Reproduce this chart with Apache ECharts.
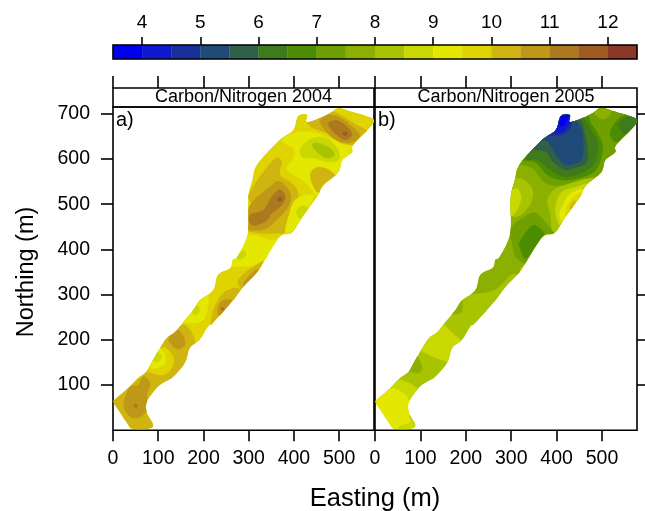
<!DOCTYPE html>
<html><head><meta charset="utf-8">
<style>html,body{margin:0;padding:0;background:#fff}#c{width:645px;height:511px}</style>
<script src="https://cdn.jsdelivr.net/npm/echarts@6/dist/echarts.min.js"></script>
</head><body><div id="c"></div>
<script>
// ---- axis ticks ----
const xTicks=[0,100,200,300,400,500];
const yTicks=[100,200,300,400,500,600,700];
const colorTicks=[4,5,6,7,8,9,10,11,12];
const titles=['Carbon/Nitrogen 2004','Carbon/Nitrogen 2005'];
const panelTags=['a)','b)'];
// ---- colour key bands: lower edges, width 0.5 ----
const bandEdges=[3.5,4,4.5,5,5.5,6,6.5,7,7.5,8,8.5,9,9.5,10,10.5,11,11.5,12];
const bandColors=['#0000f0','#1018d0','#18309c','#204a78','#306048','#3f7a1c','#4c8c00','#6fa000','#8cb000','#a8c400','#c8d800','#e4e800','#e0d400','#d0b410','#c09818','#ac7820','#a05c20','#8c3828'];
// ---- sampled field outline, Easting/Northing in m ----
const outline=[[3,67],[22,83],[38,98],[55,116],[73,129],[86,151],[104,182],[119,204],[137,217],[153,237],[177,266],[192,288],[221,310],[232,344],[259,359],[265,377],[274,383],[292,417],[299,448],[299,516],[308,554],[314,580],[332,605],[369,643],[398,664],[409,695],[429,698],[429,682],[458,691],[480,702],[498,713],[524,706],[575,689],[569,671],[531,631],[529,615],[507,597],[498,570],[465,542],[451,516],[418,470],[396,437],[369,428],[336,377],[319,350],[288,317],[263,284],[221,237],[210,229],[192,200],[170,182],[159,149],[133,118],[115,107],[97,94],[75,63],[75,38],[88,7],[44,3],[31,16],[15,40],[2,60]];
// ---- filled contours 2004: [C/N band midpoint, polygon] in paint order ----
const contours2004=[
[9.25,[[373,642],[388,653],[417,661],[451,657],[480,646],[510,631],[532,628],[513,598],[498,572],[480,539],[452,517],[436,537],[417,554],[399,565],[383,580],[399,602],[399,624],[381,633]]],
[10.25,[[430,683],[462,695],[480,705],[502,698],[532,679],[563,661],[550,646],[530,631],[506,639],[473,657],[443,668]]],
[10.75,[[459,687],[480,698],[510,687],[543,657],[538,642],[513,635],[487,646],[465,668]]],
[11.25,[[476,679],[495,685],[517,672],[528,653],[513,642],[495,653],[484,664]]],
[11.75,[[508,656],[513,660],[518,656],[513,652]]],
[8.75,[[417,628],[443,646],[473,646],[498,620],[498,598],[473,594],[443,602],[417,605]]],
[8.25,[[440,631],[454,635],[480,624],[489,609],[473,602],[454,613]]],
[10.25,[[436,565],[447,580],[469,580],[491,565],[498,550],[469,539],[454,526],[443,539]]],
[10.25,[[299,521],[325,561],[355,598],[366,602],[373,591],[369,565],[399,543],[410,517],[399,480],[381,454],[377,436],[303,439],[296,458],[307,495],[297,517]]],
[10.75,[[303,498],[347,539],[369,550],[392,524],[388,495],[369,473],[340,447],[303,443],[299,458]]],
[11.25,[[303,476],[333,487],[351,517],[369,532],[381,517],[373,498],[351,480],[336,461],[307,454]]],
[11.75,[[363,511],[369,516],[375,511],[369,506]]],
[9.25,[[403,510],[436,522],[443,513],[421,476],[395,439],[381,436],[388,473]]],
[8.75,[[405,484],[417,496],[430,491],[414,467]]],
[9.25,[[303,432],[347,421],[373,417],[336,369],[318,364],[263,362],[251,369],[281,406]]],
[8.75,[[274,384],[288,397],[294,388],[281,377]]],
[10.25,[[277,333],[311,362],[333,373],[340,355],[300,310],[285,310]]],
[10.75,[[288,325],[311,351],[322,351],[300,318]]],
[10.25,[[218,251],[229,281],[248,307],[277,314],[285,296],[263,285],[229,248],[218,233]]],
[10.75,[[231,266],[240,285],[263,288],[248,266],[235,253]]],
[11.25,[[238,268],[242,272],[246,268],[242,264]]],
[9.25,[[157,240],[207,299],[209,270],[200,244],[178,237],[159,237]]],
[8.75,[[174,262],[184,276],[192,266],[184,255]]],
[10.25,[[111,196],[134,218],[159,233],[181,200],[174,178],[167,163],[159,144],[134,115],[104,100],[78,63],[78,37],[93,1],[38,-3],[16,37],[-3,63],[23,86],[67,122],[78,137],[89,163],[104,181]]],
[9.75,[[78,133],[104,178],[119,181],[134,159],[130,137],[111,122],[82,128]]],
[9.25,[[82,141],[86,163],[104,181],[115,167],[115,148],[97,137]]],
[8.75,[[86,159],[97,172],[108,163],[97,150]]],
[10.75,[[123,203],[141,222],[156,207],[159,189],[145,179],[134,185]]],
[10.75,[[24,52],[30,82],[41,98],[56,100],[67,119],[82,104],[75,78],[75,45],[60,30],[41,28]]],
[11.25,[[46,54],[50,58],[54,54],[50,50]]]
];
// ---- filled contours 2005 ----
const contours2005=[
[7.75,[[200,299],[215,302],[263,310],[300,344],[318,347],[347,377],[600,500],[600,740],[250,740],[250,500],[190,300]]],
[8.25,[[295,521],[302,554],[328,554],[347,532],[343,502],[321,476],[299,476]]],
[8.75,[[291,517],[310,535],[322,517],[313,487],[299,476]]],
[8.25,[[380,509],[395,532],[424,546],[468,557],[509,550],[461,517],[431,480],[406,439],[391,436],[387,472]]],
[8.75,[[400,506],[413,528],[439,537],[476,546],[454,510],[420,473],[406,454],[398,480]]],
[9.25,[[413,498],[428,521],[450,533],[465,528],[435,487],[413,461],[406,476]]],
[9.75,[[423,495],[435,513],[450,524],[454,520],[431,484],[420,473]]],
[10.25,[[430,496],[440,508],[439,498],[431,487]]],
[7.25,[[299,447],[336,476],[354,480],[376,458],[395,432],[372,421],[350,384],[332,369],[310,384],[302,414]]],
[6.75,[[319,417],[343,450],[358,450],[372,432],[350,402],[332,380],[321,399]]],
[7.25,[[306,591],[328,587],[350,576],[372,550],[402,540],[453,554],[494,565],[509,580],[538,620],[586,642],[594,723],[395,723],[328,642]]],
[6.75,[[313,598],[350,594],[380,565],[409,554],[446,557],[483,572],[498,602],[501,631],[490,657],[476,679],[468,698],[446,701],[365,657],[328,620]]],
[6.25,[[332,600],[358,598],[387,576],[417,561],[453,568],[483,591],[490,635],[476,664],[457,694],[439,694],[402,687],[350,635]]],
[5.75,[[347,624],[376,616],[395,591],[420,576],[439,580],[465,591],[468,620],[461,657],[450,688],[402,690],[365,650]]],
[5.25,[[365,642],[380,639],[402,605],[420,587],[443,591],[457,605],[457,657],[443,685],[428,694],[380,664]]],
[4.75,[[381,653],[406,653],[420,657],[431,672],[431,695],[408,698],[395,675]]],
[4.25,[[406,694],[430,697],[428,683],[420,666],[406,657],[395,661],[402,679]]],
[3.75,[[413,694],[426,695],[420,679],[411,672],[406,679]]],
[7.25,[[472,698],[490,716],[531,709],[527,690],[501,675],[479,683]]],
[7.75,[[483,705],[509,715],[520,705],[509,690],[494,690]]],
[6.75,[[518,661],[538,690],[560,698],[586,690],[549,646],[527,639]]],
[6.25,[[538,679],[560,694],[583,687],[560,661],[546,657]]],
[8.75,[[104,181],[122,211],[148,233],[167,218],[189,196],[170,181],[167,159],[159,152],[111,170]]],
[7.75,[[76,130],[86,155],[93,163],[104,137],[93,126],[78,130]]],
[7.75,[[167,259],[189,288],[193,270],[187,259]]],
[8.75,[[38,93],[56,111],[97,89],[86,67]]],
[8.75,[[82,26],[89,8],[82,-3],[45,-3]]],
[9.25,[[-3,67],[23,86],[41,93],[67,78],[77,60],[75,34],[77,18],[56,10],[45,-3],[23,15],[1,52]]]
];
const baseLevels=[9.75,8.25];
const panelContours=[contours2004,contours2005];

// ---- layout / style (no data) ----
const font='"Liberation Sans",Arial,sans-serif';
const xMax=577,yMax=715;
const panelLeft=[113,375],panelWidth=[261,262];
const bandColor=v=>{let i=0;for(let k=0;k<bandEdges.length;k++){if(v>=bandEdges[k])i=k;}return bandColors[i];};
// rounds a closed pixel path for drawing (Catmull-Rom)
const rounded=P=>{const n=P.length,o=[];for(let i=0;i<n;i++){const a=P[(i+n-1)%n],b=P[i],c=P[(i+1)%n],d=P[(i+2)%n];
  for(let s=0;s<8;s++){const t=s/8,t2=t*t,t3=t2*t;
    o.push([0,1].map(k=>0.5*(2*b[k]+(c[k]-a[k])*t+(2*a[k]-5*b[k]+4*c[k]-d[k])*t2+(3*b[k]-a[k]-3*c[k]+d[k])*t3)));}}
  return o;};
const line={color:'#000',width:1.6};
const noLine={show:false,onZero:false};
const grid=[{left:113,top:45,width:524,height:14,show:true,borderColor:'#000',borderWidth:1.6,z:5}];
const xAxis=[{gridIndex:0,type:'value',min:3.5,max:12.5,position:'top',axisLine:noLine,splitLine:{show:false},
  axisTick:{show:true,length:8,lineStyle:line,customValues:colorTicks},
  axisLabel:{show:true,fontFamily:font,fontSize:19,color:'#000',margin:13,customValues:colorTicks}}];
const yAxis=[{gridIndex:0,type:'value',min:0,max:1,show:false}];
const hiddenY=g=>({gridIndex:g,type:'value',min:0,max:1,show:false});
for(let p=0;p<2;p++){
  const s=grid.length;
  grid.push({left:panelLeft[p],top:88,width:panelWidth[p],height:19,show:true,backgroundColor:'#fff',borderColor:'#000',borderWidth:1.6});
  xAxis.push({gridIndex:s,type:'value',min:0,max:xMax,position:'top',axisLine:noLine,splitLine:{show:false},
    axisTick:{show:true,length:12,lineStyle:line,customValues:xTicks},axisLabel:{show:false}});
  yAxis.push(hiddenY(s));
  const g=grid.length;
  grid.push({left:panelLeft[p],top:107,width:panelWidth[p],height:323.2,show:true,borderColor:'#000',borderWidth:1.6});
  xAxis.push({gridIndex:g,type:'value',min:0,max:xMax,position:'bottom',axisLine:noLine,splitLine:{show:false},
    axisTick:{show:true,length:11,lineStyle:line,customValues:xTicks},
    axisLabel:{show:true,fontFamily:font,fontSize:19.5,color:'#000',margin:18,customValues:xTicks}});
  yAxis.push({gridIndex:g,type:'value',min:0,max:yMax,position:p===0?'left':'right',axisLine:noLine,splitLine:{show:false},
    axisTick:{show:true,length:12,lineStyle:line,customValues:yTicks},
    axisLabel:{show:p===0,fontFamily:font,fontSize:19.5,color:'#000',margin:23,customValues:yTicks}});
}
const series=[{
  type:'custom',xAxisIndex:0,yAxisIndex:0,silent:true,animation:false,
  data:bandEdges.map(v=>[v,0]),
  renderItem:(params,api)=>{
    const a=api.coord([api.value(0),0]),b=api.coord([api.value(0)+0.5,1]);
    return {type:'rect',shape:{x:a[0],y:b[1],width:b[0]-a[0],height:a[1]-b[1]},style:{fill:bandColor(api.value(0)),stroke:bandColor(api.value(0)),lineWidth:0.3}};
  }
}];
for(let p=0;p<2;p++){
  const list=[[baseLevels[p],outline]].concat(panelContours[p]);
  const ax=1+p*2+1;
  series.push({
    type:'custom',xAxisIndex:ax,yAxisIndex:ax,silent:true,animation:false,clip:true,
    data:list.map((c,i)=>[c[0],i]),
    renderItem:(params,api)=>{
      const i=api.value(1);
      const toPx=q=>api.coord(q);
      const col=bandColor(api.value(0));
      return {type:'polygon',shape:{points:rounded(list[i][1].map(toPx))},
        clipPath:{type:'polygon',shape:{points:rounded(outline.map(toPx))}},
        style:{fill:col,stroke:col,lineWidth:0.3}};
    }
  });
}
const title=[];
for(let p=0;p<2;p++){
  title.push({text:titles[p],left:panelLeft[p]+panelWidth[p]/2,top:88.5,textAlign:'center',padding:0,
    textStyle:{fontFamily:font,fontSize:18,fontWeight:'normal',color:'#000'}});
  title.push({text:panelTags[p],left:panelLeft[p]+3,top:110,padding:0,
    textStyle:{fontFamily:font,fontSize:20,fontWeight:'normal',color:'#000'}});
}
title.push({text:'Easting (m)',left:375,top:486,textAlign:'center',padding:0,textStyle:{fontFamily:font,fontSize:25.5,fontWeight:'normal',color:'#000'}});
const chart=echarts.init(document.getElementById('c'),null,{renderer:'canvas'});
chart.setOption({animation:false,backgroundColor:'#fff',grid,xAxis,yAxis,series,title,
  graphic:[{type:'text',x:27,y:272,rotation:Math.PI/2,style:{text:'Northing (m)',font:'23.5px '+font,fill:'#000',textAlign:'center',textVerticalAlign:'middle'}}]});
</script></body></html>
